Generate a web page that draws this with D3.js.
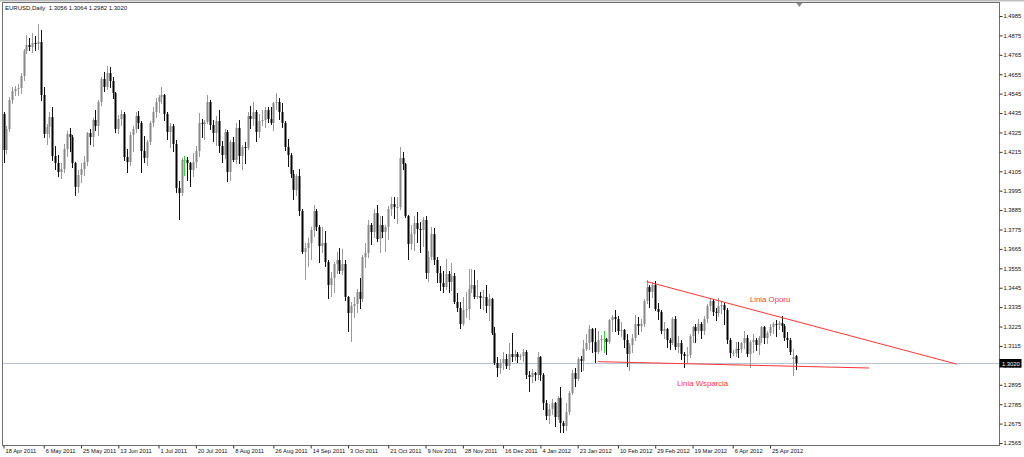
<!DOCTYPE html>
<html><head><meta charset="utf-8">
<script src="https://cdn.jsdelivr.net/npm/d3@7"></script>
<style>
html,body{margin:0;padding:0;background:#fff;}
svg{display:block;}
text{font-family:"Liberation Sans",Arial,sans-serif;}
</style></head><body>
<svg id="c" width="1024" height="457"></svg>
<script>
// ---------- DATA ----------
const symbol = "EURUSD,Daily";
const lastQuote = [1.3056, 1.3064, 1.2982, 1.3020];

const dates = [
// Apr 2011
"2011-04-18","2011-04-19","2011-04-20","2011-04-21","2011-04-22","2011-04-25","2011-04-26","2011-04-27","2011-04-28","2011-04-29",
// May 2011
"2011-05-02","2011-05-03","2011-05-04","2011-05-05","2011-05-06","2011-05-09","2011-05-10","2011-05-11","2011-05-12","2011-05-13","2011-05-16","2011-05-17","2011-05-18","2011-05-19","2011-05-20","2011-05-23","2011-05-24","2011-05-25","2011-05-26","2011-05-27","2011-05-30","2011-05-31",
// Jun 2011
"2011-06-01","2011-06-02","2011-06-03","2011-06-06","2011-06-07","2011-06-08","2011-06-09","2011-06-10","2011-06-13","2011-06-14","2011-06-15","2011-06-16","2011-06-17","2011-06-20","2011-06-21","2011-06-22","2011-06-23","2011-06-24","2011-06-27","2011-06-28","2011-06-29","2011-06-30",
// Jul 2011
"2011-07-01","2011-07-04","2011-07-05","2011-07-06","2011-07-07","2011-07-08","2011-07-11","2011-07-12","2011-07-13","2011-07-14","2011-07-15","2011-07-18","2011-07-19","2011-07-20","2011-07-21","2011-07-22","2011-07-25","2011-07-26","2011-07-27","2011-07-28","2011-07-29",
// Aug 2011
"2011-08-01","2011-08-02","2011-08-03","2011-08-04","2011-08-05","2011-08-08","2011-08-09","2011-08-10","2011-08-11","2011-08-12","2011-08-15","2011-08-16","2011-08-17","2011-08-18","2011-08-19","2011-08-22","2011-08-23","2011-08-24","2011-08-25","2011-08-26","2011-08-29","2011-08-30","2011-08-31",
// Sep 2011
"2011-09-01","2011-09-02","2011-09-05","2011-09-06","2011-09-07","2011-09-08","2011-09-09","2011-09-12","2011-09-13","2011-09-14","2011-09-15","2011-09-16","2011-09-19","2011-09-20","2011-09-21","2011-09-22","2011-09-23","2011-09-26","2011-09-27","2011-09-28","2011-09-29","2011-09-30",
// Oct 2011
"2011-10-03","2011-10-04","2011-10-05","2011-10-06","2011-10-07","2011-10-10","2011-10-11","2011-10-12","2011-10-13","2011-10-14","2011-10-17","2011-10-18","2011-10-19","2011-10-20","2011-10-21","2011-10-24","2011-10-25","2011-10-26","2011-10-27","2011-10-28","2011-10-31",
// Nov 2011
"2011-11-01","2011-11-02","2011-11-03","2011-11-04","2011-11-07","2011-11-08","2011-11-09","2011-11-10","2011-11-11","2011-11-14","2011-11-15","2011-11-16","2011-11-17","2011-11-18","2011-11-21","2011-11-22","2011-11-23","2011-11-24","2011-11-25","2011-11-28","2011-11-29","2011-11-30",
// Dec 2011
"2011-12-01","2011-12-02","2011-12-05","2011-12-06","2011-12-07","2011-12-08","2011-12-09","2011-12-12","2011-12-13","2011-12-14","2011-12-15","2011-12-16","2011-12-19","2011-12-20","2011-12-21","2011-12-22","2011-12-23","2011-12-26","2011-12-27","2011-12-28","2011-12-29","2011-12-30",
// Jan 2012
"2012-01-02","2012-01-03","2012-01-04","2012-01-05","2012-01-06","2012-01-09","2012-01-10","2012-01-11","2012-01-12","2012-01-13","2012-01-16","2012-01-17","2012-01-18","2012-01-19","2012-01-20","2012-01-23","2012-01-24","2012-01-25","2012-01-26","2012-01-27","2012-01-30","2012-01-31",
// Feb 2012
"2012-02-01","2012-02-02","2012-02-03","2012-02-06","2012-02-07","2012-02-08","2012-02-09","2012-02-10","2012-02-13","2012-02-14","2012-02-15","2012-02-16","2012-02-17","2012-02-20","2012-02-21","2012-02-22","2012-02-23","2012-02-24","2012-02-27","2012-02-28","2012-02-29",
// Mar 2012
"2012-03-01","2012-03-02","2012-03-05","2012-03-06","2012-03-07","2012-03-08","2012-03-09","2012-03-12","2012-03-13","2012-03-14","2012-03-15","2012-03-16","2012-03-19","2012-03-20","2012-03-21","2012-03-22","2012-03-23","2012-03-26","2012-03-27","2012-03-28","2012-03-29","2012-03-30",
// Apr 2012
"2012-04-02","2012-04-03","2012-04-04","2012-04-05","2012-04-06","2012-04-09","2012-04-10","2012-04-11","2012-04-12","2012-04-13","2012-04-16","2012-04-17","2012-04-18","2012-04-19","2012-04-20","2012-04-23","2012-04-24","2012-04-25","2012-04-26","2012-04-27","2012-04-30",
// May 2012
"2012-05-01","2012-05-02","2012-05-03","2012-05-04","2012-05-07","2012-05-08"
];

const open = [
1.4430,1.4225,1.4345,1.4510,1.4560,1.4570,1.4575,1.4645,1.4785,1.4820,
1.4810,1.4830,1.4825,1.4835,1.4540,1.4315,1.4355,1.4415,1.4190,1.4150,1.4100,1.4120,1.4230,1.4315,1.4300,1.4150,1.4015,1.4085,1.4120,1.4160,1.4320,1.4300,
1.4395,1.4360,1.4500,1.4630,1.4580,1.4660,1.4615,1.4550,1.4345,1.4400,1.4430,1.4185,1.4160,1.4310,1.4345,1.4420,1.4380,1.4220,1.4180,1.4270,1.4380,1.4440,
1.4500,1.4525,1.4535,1.4430,1.4330,1.4360,1.4260,1.4010,1.3980,1.4170,1.4170,1.4150,1.4110,1.4160,1.4220,1.4380,1.4375,1.4385,1.4500,1.4370,1.4320,
1.4390,1.4250,1.4200,1.4330,1.4100,1.4270,1.4170,1.4350,1.4190,1.4240,1.4235,1.4420,1.4400,1.4440,1.4325,1.4390,1.4395,1.4450,1.4400,1.4380,1.4490,1.4500,1.4440,
1.4380,1.4240,1.4200,1.4090,1.4000,1.4080,1.3880,1.3650,1.3670,1.3700,1.3770,1.3880,1.3790,1.3680,1.3700,1.3590,1.3460,1.3500,1.3580,1.3600,1.3540,1.3580,
1.3390,1.3300,1.3340,1.3350,1.3420,1.3380,1.3620,1.3640,1.3800,1.3760,1.3870,1.3720,1.3800,1.3760,1.3790,1.3890,1.3920,1.3900,1.3905,1.4180,1.4145,
1.3850,1.3690,1.3750,1.3810,1.3780,1.3770,1.3830,1.3530,1.3620,1.3750,1.3600,1.3530,1.3470,1.3450,1.3520,1.3480,1.3510,1.3365,1.3330,1.3240,1.3320,1.3325,
1.3440,1.3460,1.3390,1.3400,1.3385,1.3395,1.3340,1.3380,1.3190,1.3020,1.2990,1.3020,1.3040,1.3000,1.3070,1.3050,1.3070,1.3050,1.3060,1.3080,1.2950,1.2940,
1.2960,1.2950,1.3050,1.2950,1.2790,1.2720,1.2760,1.2790,1.2710,1.2820,1.2680,1.2660,1.2740,1.2850,1.2960,1.2930,1.3040,1.3030,1.3100,1.3130,1.3210,1.3140,
1.3080,1.3150,1.3155,1.3155,1.3140,1.3260,1.3280,1.3270,1.3200,1.3205,1.3150,1.3070,1.3120,1.3160,1.3240,1.3230,1.3240,1.3370,1.3450,1.3420,1.3460,
1.3325,1.3310,1.3200,1.3210,1.3150,1.3130,1.3270,1.3110,1.3130,1.3070,1.3060,1.3065,1.3170,1.3220,1.3200,1.3240,1.3200,1.3270,1.3340,1.3370,1.3310,1.3300,
1.3340,1.3345,1.3320,1.3150,1.3075,1.3075,1.3100,1.3095,1.3130,1.3160,1.3070,1.3140,1.3150,1.3120,1.3160,1.3220,1.3160,1.3190,1.3220,1.3240,1.3235,
1.3245,1.3230,1.3160,1.3150,1.3040,1.3056
];

const high = [
1.4440,1.4360,1.4525,1.4585,1.4590,1.4600,1.4660,1.4800,1.4880,1.4860,
1.4890,1.4870,1.4940,1.4905,1.4580,1.4375,1.4440,1.4470,1.4250,1.4200,1.4150,1.4260,1.4335,1.4350,1.4310,1.4160,1.4115,1.4150,1.4190,1.4330,1.4345,1.4405,
1.4450,1.4510,1.4640,1.4665,1.4700,1.4695,1.4640,1.4555,1.4425,1.4450,1.4440,1.4230,1.4330,1.4360,1.4440,1.4445,1.4390,1.4305,1.4285,1.4390,1.4470,1.4520,
1.4540,1.4580,1.4545,1.4440,1.4380,1.4375,1.4280,1.4050,1.4180,1.4190,1.4185,1.4160,1.4210,1.4250,1.4435,1.4400,1.4395,1.4535,1.4510,1.4395,1.4420,
1.4450,1.4275,1.4345,1.4340,1.4280,1.4300,1.4380,1.4395,1.4255,1.4270,1.4440,1.4475,1.4495,1.4450,1.4430,1.4450,1.4470,1.4470,1.4470,1.4495,1.4550,1.4520,1.4490,
1.4390,1.4290,1.4210,1.4115,1.4090,1.4120,1.3890,1.3700,1.3725,1.3790,1.3915,1.3890,1.3800,1.3790,1.3765,1.3600,1.3535,1.3590,1.3650,1.3670,1.3665,1.3600,
1.3400,1.3365,1.3395,1.3440,1.3500,1.3630,1.3700,1.3830,1.3810,1.3890,1.3915,1.3850,1.3850,1.3800,1.3910,1.3960,1.3960,1.3960,1.4245,1.4215,1.4150,
1.3860,1.3800,1.3850,1.3875,1.3820,1.3845,1.3850,1.3655,1.3790,1.3785,1.3620,1.3570,1.3540,1.3610,1.3540,1.3585,1.3530,1.3415,1.3365,1.3390,1.3420,1.3550,
1.3550,1.3545,1.3490,1.3420,1.3430,1.3460,1.3410,1.3385,1.3220,1.3050,1.3040,1.3080,1.3070,1.3130,1.3190,1.3090,1.3080,1.3070,1.3100,1.3090,1.2975,1.2985,
1.2970,1.3080,1.3060,1.2960,1.2810,1.2785,1.2815,1.2800,1.2830,1.2880,1.2690,1.2790,1.2860,1.2980,1.2990,1.3050,1.3060,1.3150,1.3180,1.3235,1.3215,1.3215,
1.3200,1.3175,1.3200,1.3160,1.3265,1.3290,1.3320,1.3285,1.3250,1.3210,1.3185,1.3130,1.3185,1.3290,1.3280,1.3270,1.3380,1.3486,1.3460,1.3480,1.3485,
1.3360,1.3320,1.3250,1.3215,1.3160,1.3280,1.3285,1.3170,1.3150,1.3080,1.3110,1.3180,1.3230,1.3240,1.3265,1.3250,1.3285,1.3355,1.3385,1.3380,1.3330,1.3385,
1.3370,1.3360,1.3330,1.3160,1.3090,1.3140,1.3140,1.3140,1.3200,1.3175,1.3150,1.3180,1.3160,1.3170,1.3230,1.3230,1.3200,1.3240,1.3250,1.3260,1.3255,
1.3283,1.3240,1.3195,1.3160,1.3095,1.3064
];

const low = [
1.4155,1.4210,1.4335,1.4490,1.4535,1.4540,1.4550,1.4620,1.4775,1.4790,
1.4780,1.4790,1.4800,1.4510,1.4300,1.4260,1.4300,1.4170,1.4120,1.4080,1.4065,1.4100,1.4190,1.4220,1.4130,1.3968,1.3990,1.4045,1.4085,1.4140,1.4260,1.4250,
1.4340,1.4310,1.4480,1.4560,1.4570,1.4580,1.4520,1.4330,1.4320,1.4370,1.4170,1.4100,1.4140,1.4220,1.4325,1.4350,1.4100,1.4160,1.4140,1.4260,1.4360,1.4415,
1.4440,1.4490,1.4395,1.4290,1.4240,1.4220,1.3990,1.3835,1.3970,1.4085,1.4055,1.4020,1.4080,1.4130,1.4190,1.4300,1.4290,1.4380,1.4345,1.4275,1.4255,
1.4215,1.4155,1.4180,1.4050,1.4055,1.4165,1.4150,1.4150,1.4120,1.4150,1.4230,1.4350,1.4370,1.4275,1.4300,1.4370,1.4355,1.4385,1.4375,1.4340,1.4460,1.4400,1.4355,
1.4225,1.4135,1.4075,1.3950,1.3970,1.3860,1.3640,1.3495,1.3570,1.3610,1.3740,1.3770,1.3590,1.3650,1.3570,1.3385,1.3400,1.3420,1.3530,1.3530,1.3520,1.3375,
1.3200,1.3145,1.3280,1.3310,1.3330,1.3370,1.3560,1.3620,1.3695,1.3730,1.3710,1.3650,1.3735,1.3655,1.3720,1.3855,1.3840,1.3810,1.3890,1.4120,1.3845,
1.3610,1.3665,1.3660,1.3705,1.3650,1.3680,1.3500,1.3485,1.3610,1.3580,1.3480,1.3430,1.3420,1.3440,1.3420,1.3430,1.3360,1.3315,1.3215,1.3235,1.3280,1.3270,
1.3420,1.3385,1.3385,1.3330,1.3325,1.3310,1.3260,1.3180,1.3010,1.2945,1.2960,1.2985,1.2990,1.2985,1.3030,1.3035,1.3025,1.3040,1.3030,1.2935,1.2860,1.2910,
1.2920,1.2930,1.2920,1.2760,1.2700,1.2680,1.2730,1.2660,1.2700,1.2625,1.2625,1.2640,1.2730,1.2840,1.2890,1.2920,1.2975,1.2980,1.3090,1.3100,1.3080,1.3025,
1.3075,1.3090,1.3080,1.3070,1.3130,1.3200,1.3200,1.3180,1.3170,1.3110,1.3000,1.2980,1.3080,1.3150,1.3180,1.3200,1.3230,1.3360,1.3335,1.3390,1.3320,
1.3270,1.3190,1.3160,1.3110,1.3100,1.3125,1.3100,1.3080,1.3040,1.2995,1.3020,1.3050,1.3140,1.3140,1.3190,1.3160,1.3180,1.3250,1.3320,1.3290,1.3260,1.3285,
1.3300,1.3240,1.3130,1.3050,1.3065,1.3060,1.3050,1.3080,1.3105,1.3060,1.2995,1.3080,1.3090,1.3070,1.3140,1.3130,1.3130,1.3175,1.3190,1.3170,1.3210,
1.3200,1.3150,1.3110,1.3070,1.2950,1.2982
];

const close = [
1.4225,1.4345,1.4510,1.4560,1.4570,1.4575,1.4645,1.4785,1.4820,1.4810,
1.4830,1.4825,1.4835,1.4540,1.4315,1.4355,1.4415,1.4190,1.4150,1.4100,1.4120,1.4230,1.4315,1.4300,1.4150,1.4015,1.4085,1.4120,1.4160,1.4320,1.4300,1.4395,
1.4360,1.4500,1.4630,1.4580,1.4660,1.4615,1.4550,1.4345,1.4400,1.4430,1.4185,1.4160,1.4310,1.4345,1.4420,1.4380,1.4220,1.4180,1.4270,1.4380,1.4440,1.4500,
1.4525,1.4535,1.4430,1.4330,1.4360,1.4260,1.4010,1.3980,1.4170,1.4170,1.4150,1.4110,1.4160,1.4220,1.4380,1.4375,1.4385,1.4500,1.4370,1.4320,1.4390,
1.4250,1.4200,1.4330,1.4100,1.4270,1.4170,1.4350,1.4190,1.4240,1.4235,1.4420,1.4400,1.4440,1.4325,1.4390,1.4395,1.4450,1.4400,1.4380,1.4490,1.4500,1.4440,1.4380,
1.4240,1.4200,1.4090,1.4000,1.4080,1.3880,1.3650,1.3670,1.3700,1.3770,1.3880,1.3790,1.3680,1.3700,1.3590,1.3460,1.3500,1.3580,1.3600,1.3540,1.3580,1.3390,
1.3300,1.3340,1.3350,1.3420,1.3380,1.3620,1.3640,1.3800,1.3760,1.3870,1.3720,1.3800,1.3760,1.3790,1.3890,1.3920,1.3900,1.3905,1.4180,1.4145,1.3850,
1.3690,1.3750,1.3810,1.3780,1.3770,1.3830,1.3530,1.3620,1.3750,1.3600,1.3530,1.3470,1.3450,1.3520,1.3480,1.3510,1.3365,1.3330,1.3240,1.3320,1.3325,1.3440,
1.3460,1.3390,1.3400,1.3385,1.3395,1.3340,1.3380,1.3190,1.3020,1.2990,1.3020,1.3040,1.3000,1.3070,1.3050,1.3070,1.3050,1.3060,1.3080,1.2950,1.2940,1.2960,
1.2950,1.3050,1.2950,1.2790,1.2720,1.2760,1.2790,1.2710,1.2820,1.2680,1.2660,1.2740,1.2850,1.2960,1.2930,1.3040,1.3030,1.3100,1.3130,1.3210,1.3140,1.3080,
1.3150,1.3155,1.3155,1.3140,1.3260,1.3280,1.3270,1.3200,1.3205,1.3150,1.3070,1.3120,1.3160,1.3240,1.3230,1.3240,1.3370,1.3450,1.3420,1.3460,1.3325,
1.3310,1.3200,1.3210,1.3150,1.3130,1.3270,1.3110,1.3130,1.3070,1.3060,1.3065,1.3170,1.3220,1.3200,1.3240,1.3200,1.3270,1.3340,1.3370,1.3310,1.3300,1.3340,
1.3345,1.3320,1.3150,1.3075,1.3075,1.3100,1.3095,1.3130,1.3160,1.3070,1.3140,1.3150,1.3120,1.3160,1.3220,1.3160,1.3190,1.3220,1.3240,1.3235,1.3245,
1.3230,1.3160,1.3150,1.3080,1.3055,1.3020
];

const priceTicks = [1.4985,1.4875,1.4765,1.4655,1.4545,1.4435,1.4325,1.4215,1.4105,1.3995,1.3885,1.3775,1.3665,1.3555,1.3445,1.3335,1.3225,1.3115,1.3005,1.2895,1.2785,1.2675,1.2565];

const dateTicks = ["2011-04-18","2011-05-06","2011-05-25","2011-06-13","2011-07-01","2011-07-20","2011-08-08","2011-08-26","2011-09-14","2011-10-03","2011-10-21","2011-11-09","2011-11-28","2011-12-16","2012-01-04","2012-01-23","2012-02-10","2012-02-29","2012-03-19","2012-04-06","2012-04-25"];

// trend lines: [bar index, price] (index may extend past the last bar)
const resistanceLine = [[224, 1.3480], [332, 1.3012]];
const supportLine    = [[207, 1.3026], [301.5, 1.2990]];
const labelOporu     = {text: "Linia Oporu",    at: [260, 1.3364]};
const labelWsparcia  = {text: "Linia Wsparcia", at: [234.6, 1.2888]};

// ---------- DRAW ----------
const W = 1024, H = 457;
const frame = {l: 2.5, t: 2.5, r: 999.5, b: 445.5};
const step = 2.871;
const svg = d3.select("#c");

const x = d3.scaleLinear().domain([0, dates.length - 1]).range([3.5, 3.5 + (dates.length - 1) * step]);
const y = d3.scaleLinear().domain([d3.min(priceTicks), d3.max(priceTicks)]).range([443, 16]);

svg.append("rect").attr("width", W).attr("height", H).attr("fill", "#fff");
svg.append("rect").attr("x", 0).attr("y", 0).attr("width", W).attr("height", 1.5).attr("fill", "#bdbdbd");

svg.append("defs").append("clipPath").attr("id", "clip")
  .append("rect").attr("x", frame.l).attr("y", frame.t)
  .attr("width", frame.r - frame.l).attr("height", frame.b - frame.t);

const plot = svg.append("g").attr("clip-path", "url(#clip)");

// current price line
const lastClose = close[close.length - 1];
const yLast = Math.round(y(lastClose)) + 0.5;
plot.append("line").attr("x1", frame.l).attr("x2", frame.r)
  .attr("y1", yLast).attr("y2", yLast)
  .attr("stroke", "#b7c2d2").attr("stroke-width", 1);

// candles
const candles = plot.append("g");
dates.forEach((d, i) => {
  const o = open[i], h = high[i], l = low[i], c = close[i];
  const cx = Math.round(x(i));
  const doji = o === c;
  const bull = c > o;
  const wickCol = doji ? "#3fcf3f" : (bull ? "#9a9a9a" : "#111");
  const bodyCol = doji ? "#3fcf3f" : (bull ? "#888" : "#000");
  candles.append("line")
    .attr("x1", cx + 0.5).attr("x2", cx + 0.5)
    .attr("y1", Math.round(y(h))).attr("y2", Math.round(y(l)) + 1)
    .attr("stroke", wickCol).attr("stroke-width", 1);
  const top = Math.round(y(Math.max(o, c)));
  const bot = Math.round(y(Math.min(o, c)));
  candles.append("rect")
    .attr("x", cx - 0.5).attr("y", top)
    .attr("width", 2).attr("height", Math.max(1, bot - top))
    .attr("fill", bodyCol);
});

// trend lines
const lineGen = d3.line().x(p => x(p[0])).y(p => y(p[1]));
[resistanceLine, supportLine].forEach(ln => {
  plot.append("path").attr("d", lineGen(ln))
    .attr("fill", "none").attr("stroke", "#ff3535").attr("stroke-width", 1);
});
[labelOporu, labelWsparcia].forEach(a => {
  plot.append("text").attr("x", x(a.at[0])).attr("y", y(a.at[1]))
    .attr("font-size", "7.8px").attr("fill", "#f23a3a").text(a.text);
});

// frame
svg.append("rect").attr("x", frame.l).attr("y", frame.t)
  .attr("width", frame.r - frame.l).attr("height", frame.b - frame.t)
  .attr("fill", "none").attr("stroke", "#6e6e6e").attr("stroke-width", 1);

// y axis (right)
const yAxis = d3.axisRight(y).tickValues(priceTicks).tickSize(3).tickPadding(1)
  .tickFormat(d3.format(".4f"));
const gy = svg.append("g").attr("transform", `translate(${frame.r},0)`).call(yAxis);
gy.select(".domain").remove();
gy.selectAll("line").attr("stroke", "#333");
gy.selectAll("text").attr("font-size", "5.8px").attr("fill", "#111")
  .attr("font-family", "'Liberation Sans',Arial,sans-serif");

// current price label
svg.append("rect").attr("x", frame.r).attr("y", yLast - 4.5).attr("width", 22).attr("height", 8.5).attr("fill", "#000");
svg.append("text").attr("x", frame.r + 2.5).attr("y", yLast + 2.2)
  .attr("font-size", "5.8px").attr("fill", "#fff").text(d3.format(".4f")(lastClose));

// x axis (bottom)
const parse = d3.timeParse("%Y-%m-%d");
const fmt = d3.timeFormat("%-d %b %Y");
const xAxis = d3.axisBottom(x).tickValues(dateTicks.map(d => dates.indexOf(d)))
  .tickSize(3).tickPadding(0).tickFormat(i => fmt(parse(dates[i])));
const gx = svg.append("g").attr("transform", `translate(0,${frame.b})`).call(xAxis);
gx.select(".domain").remove();
gx.selectAll("line").attr("stroke", "#333");
gx.selectAll("text").attr("font-size", "5.8px").attr("fill", "#111")
  .attr("text-anchor", "start").attr("x", 1.5).attr("dy", "0.85em")
  .attr("font-family", "'Liberation Sans',Arial,sans-serif");

// title
svg.append("text").attr("x", 5).attr("y", 10).attr("font-size", "6px").attr("fill", "#111")
  .attr("xml:space", "preserve")
  .text(symbol + "  " + lastQuote.map(d3.format(".4f")).join(" "));

// chart-shift marker
svg.append("path").attr("d", d3.line()([[x(dates.length - 1) + 0.5, frame.t + 0.5], [x(dates.length - 1) + 6.5, frame.t + 0.5], [x(dates.length - 1) + 3.5, frame.t + 4.5]]) + "Z")
  .attr("fill", "#8a8a8a");
</script>
</body></html>
